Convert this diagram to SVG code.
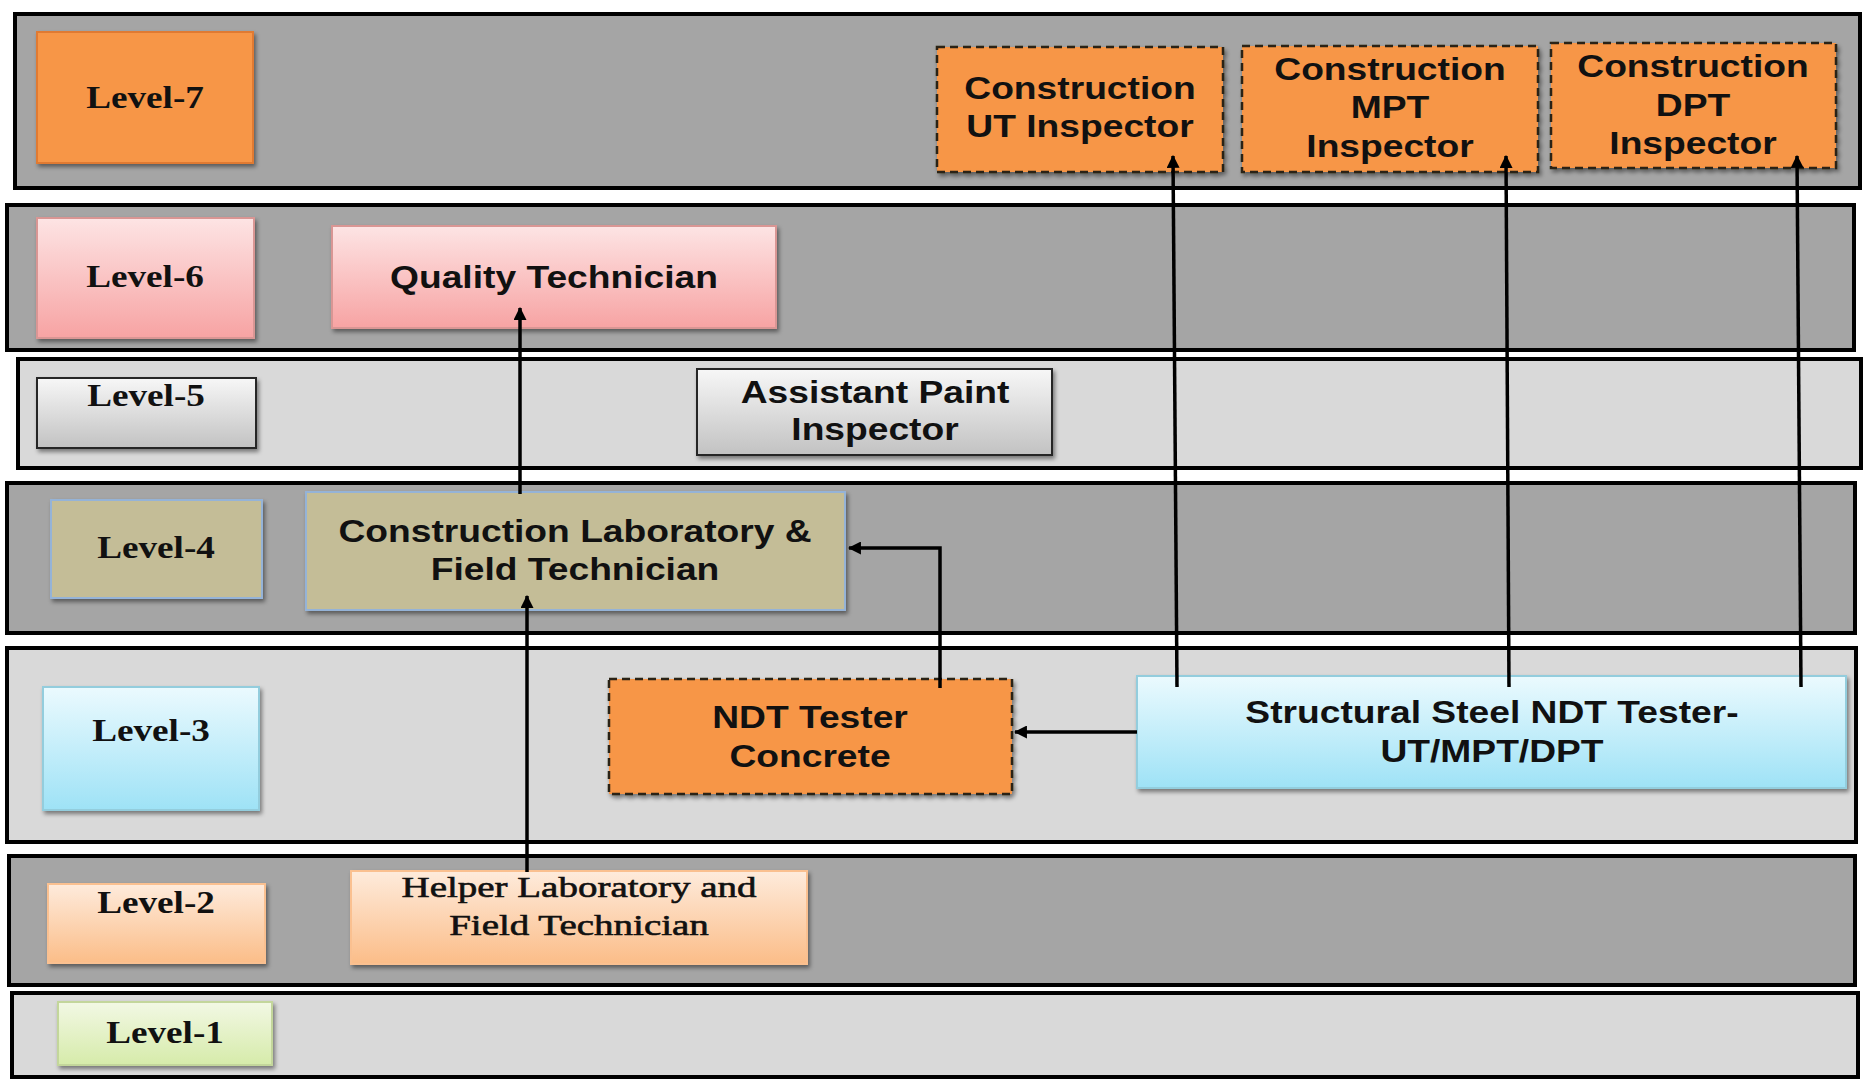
<svg xmlns="http://www.w3.org/2000/svg" width="1864" height="1081" viewBox="0 0 1864 1081">
<defs>
<style>
.band{stroke:#000;stroke-width:4}
.dark{fill:#a5a5a5}
.light{fill:#d9d9d9}
.s{font-family:"Liberation Sans",Arial,sans-serif;font-weight:bold;font-size:31px;fill:#111;text-anchor:middle}
.t{font-family:"Liberation Serif","Times New Roman",serif;font-weight:bold;font-size:31px;fill:#111;text-anchor:middle}
.h{font-family:"Liberation Serif","Times New Roman",serif;font-weight:normal;font-size:30px;fill:#111;text-anchor:middle;stroke:#111;stroke-width:0.6}
.orange{fill:#f79646;stroke:#2b2016;stroke-width:2.5;stroke-dasharray:8 5}
.orangeS{fill:#f79646;stroke:#e07a30;stroke-width:2}
.pink{fill:url(#gPink);stroke:#d99694;stroke-width:2}
.grey{fill:url(#gGrey);stroke:#262626;stroke-width:2}
.tan{fill:#c4bd97;stroke:#95b3d7;stroke-width:2}
.cyan{fill:url(#gCyan);stroke:#93cddd;stroke-width:2}
.peach{fill:url(#gPeach);stroke:#fac090;stroke-width:2}
.green{fill:url(#gGreen);stroke:#c3d69b;stroke-width:2}
.conn{fill:none;stroke:#000;stroke-width:3.5;marker-end:url(#arr)}
</style>
<linearGradient id="gPink" x1="0" y1="0" x2="0" y2="1"><stop offset="0" stop-color="#fde4e4"/><stop offset="1" stop-color="#f7a3a3"/></linearGradient>
<linearGradient id="gGrey" x1="0" y1="0" x2="0" y2="1"><stop offset="0" stop-color="#f7f7f7"/><stop offset="1" stop-color="#c2c2c2"/></linearGradient>
<linearGradient id="gCyan" x1="0" y1="0" x2="0" y2="1"><stop offset="0" stop-color="#ebfafe"/><stop offset="1" stop-color="#9ee2f6"/></linearGradient>
<linearGradient id="gPeach" x1="0" y1="0" x2="0" y2="1"><stop offset="0" stop-color="#feebdc"/><stop offset="1" stop-color="#fbbd88"/></linearGradient>
<linearGradient id="gGreen" x1="0" y1="0" x2="0" y2="1"><stop offset="0" stop-color="#f2f8e4"/><stop offset="1" stop-color="#d6ebaa"/></linearGradient>
<filter id="sh" x="-10%" y="-10%" width="120%" height="130%"><feDropShadow dx="2" dy="3" stdDeviation="2" flood-color="#000" flood-opacity="0.45"/></filter>
<marker id="arr" viewBox="0 0 12 12" markerWidth="13" markerHeight="13" refX="11" refY="6" orient="auto" markerUnits="userSpaceOnUse"><path d="M0,0 L12,6 L0,12 z" fill="#000"/></marker>
</defs>
<rect width="1864" height="1081" fill="#fff"/>
<g id="bands">
<rect id="band7" class="band dark" x="15" y="14" width="1845" height="174"/>
<rect id="band6" class="band dark" x="7" y="205" width="1847" height="145"/>
<rect id="band5" class="band light" x="18" y="359" width="1843" height="109"/>
<rect id="band4" class="band dark" x="7" y="483" width="1848" height="150"/>
<rect id="band3" class="band light" x="7" y="648" width="1849" height="194"/>
<rect id="band2" class="band dark" x="9" y="856" width="1846" height="129"/>
<rect id="band1" class="band light" x="12" y="993" width="1846" height="84"/>
</g>
<g id="level7"><rect class="orangeS" filter="url(#sh)" x="37" y="32" width="216" height="131"/><text class="t" transform="translate(145,108) scale(1.2,1)">Level-7</text></g>
<g id="level6"><rect class="pink" filter="url(#sh)" x="37" y="218" width="217" height="120"/><text class="t" transform="translate(145,287) scale(1.2,1)">Level-6</text></g>
<g id="level5"><rect class="grey" filter="url(#sh)" x="37" y="378" width="219" height="70"/><text class="t" transform="translate(146,406) scale(1.2,1)">Level-5</text></g>
<g id="level4"><rect class="tan" filter="url(#sh)" x="51" y="500" width="211" height="98"/><text class="t" transform="translate(156,558) scale(1.2,1)">Level-4</text></g>
<g id="level3"><rect class="cyan" filter="url(#sh)" x="43" y="687" width="216" height="123"/><text class="t" transform="translate(151,741) scale(1.2,1)">Level-3</text></g>
<g id="level2"><rect class="peach" filter="url(#sh)" x="48" y="884" width="217" height="79"/><text class="t" transform="translate(156,913) scale(1.2,1)">Level-2</text></g>
<g id="level1"><rect class="green" filter="url(#sh)" x="58" y="1002" width="214" height="63"/><text class="t" transform="translate(165,1043) scale(1.2,1)">Level-1</text></g>
<g id="utInspector"><rect class="orange" filter="url(#sh)" x="937" y="47" width="286" height="125"/><text class="s" transform="translate(1080,99) scale(1.2,1)"><tspan x="0">Construction</tspan><tspan x="0" dy="38">UT Inspector</tspan></text></g>
<g id="mptInspector"><rect class="orange" filter="url(#sh)" x="1242" y="46" width="296" height="126"/><text class="s" transform="translate(1390,80) scale(1.2,1)"><tspan x="0">Construction</tspan><tspan x="0" dy="38">MPT</tspan><tspan x="0" dy="39">Inspector</tspan></text></g>
<g id="dptInspector"><rect class="orange" filter="url(#sh)" x="1551" y="43" width="285" height="125"/><text class="s" transform="translate(1693,77) scale(1.2,1)"><tspan x="0">Construction</tspan><tspan x="0" dy="39">DPT</tspan><tspan x="0" dy="38">Inspector</tspan></text></g>
<g id="qualityTechnician"><rect class="pink" filter="url(#sh)" x="332" y="226" width="444" height="102"/><text class="s" transform="translate(554,288) scale(1.2,1)">Quality Technician</text></g>
<g id="assistantPaint"><rect class="grey" filter="url(#sh)" x="697" y="369" width="355" height="86"/><text class="s" transform="translate(875,403) scale(1.2,1)"><tspan x="0">Assistant Paint</tspan><tspan x="0" dy="37">Inspector</tspan></text></g>
<g id="constructionLab"><rect class="tan" filter="url(#sh)" x="306" y="492" width="539" height="118"/><text class="s" transform="translate(575,542) scale(1.2,1)"><tspan x="0">Construction Laboratory &amp;</tspan><tspan x="0" dy="38">Field Technician</tspan></text></g>
<g id="ndtConcrete"><rect class="orange" filter="url(#sh)" x="609" y="679" width="403" height="115"/><text class="s" transform="translate(810,728) scale(1.2,1)"><tspan x="0">NDT Tester</tspan><tspan x="0" dy="39">Concrete</tspan></text></g>
<g id="structuralSteel"><rect class="cyan" filter="url(#sh)" x="1137" y="676" width="709" height="112"/><text class="s" transform="translate(1492,723) scale(1.2,1)"><tspan x="0">Structural Steel NDT Tester-</tspan><tspan x="0" dy="39">UT/MPT/DPT</tspan></text></g>
<g id="helperLab"><rect class="peach" filter="url(#sh)" x="351" y="871" width="456" height="93"/><text class="h" transform="translate(579,897) scale(1.3,1)"><tspan x="0">Helper Laboratory and</tspan><tspan x="0" dy="38">Field Technician</tspan></text></g>
<g id="connectors">
<path class="conn" d="M520,494 L520,308"/>
<path class="conn" d="M527,872 L527,596"/>
<path class="conn" d="M940,688 L940,548 L849,548"/>
<path class="conn" d="M1137,732 L1015,732"/>
<path class="conn" d="M1177,687 L1173,156"/>
<path class="conn" d="M1509,687 L1506,156"/>
<path class="conn" d="M1801,687 L1797,156"/>
</g>
</svg>
